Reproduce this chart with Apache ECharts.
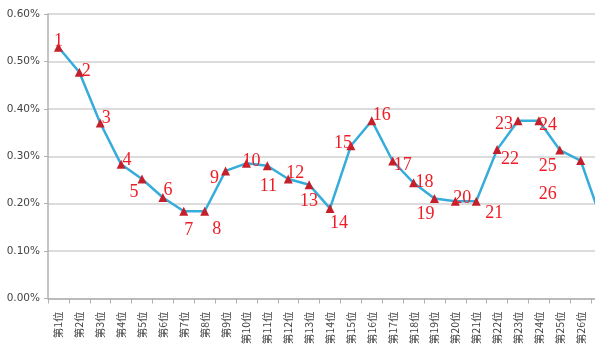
<!DOCTYPE html>
<html><head><meta charset="utf-8">
<script src="https://cdn.jsdelivr.net/npm/echarts@6/dist/echarts.min.js"></script>
<style>html,body{margin:0;padding:0;background:#fff}#c{width:600px;height:356px}</style>
</head><body><div id="c"></div>
<script>
const categories = ['第1位','第2位','第3位','第4位','第5位','第6位','第7位','第8位','第9位','第10位','第11位','第12位','第13位','第14位','第15位','第16位','第17位','第18位','第19位','第20位','第21位','第22位','第23位','第24位','第25位','第26位','第27位'];
const values = [0.530,0.477,0.370,0.283,0.252,0.213,0.184,0.184,0.269,0.285,0.280,0.252,0.240,0.190,0.322,0.375,0.290,0.244,0.211,0.205,0.205,0.314,0.375,0.375,0.313,0.291,0.165];
const pointLabels = ['1','2','3','4','5','6','7','8','9','10','11','12','13','14','15','16','17','18','19','20','21','22','23','24','25','26',''];
const labelOffsets = [[0,-6],[7,-1],[6,-5],[6,-4],[-8,13],[5,-7],[5,19],[12,18],[-11,7],[5,-2],[1,21],[7,-6],[0,17],[9,15],[-8,-3],[10,-5],[10,4],[11,-1],[-9,16],[7,-3],[18,12],[13,10],[-14,4],[9,5],[-12,16],[-33,34],[0,0]];
const yTicks = { min: 0, max: 0.6, interval: 0.1 };

const chart = echarts.init(document.getElementById('c'), null, {renderer:'canvas'});
const data = values.map((v,i)=>({
  value: v,
  label: { show: pointLabels[i] !== '', formatter: pointLabels[i], position: 'inside', offset: labelOffsets[i] }
}));
chart.setOption({
  animation: false,
  backgroundColor: '#fff',
  grid: { left: 48, width: 564, top: 14, bottom: 57.5, containLabel: false, outerBoundsMode: 'none' },
  xAxis: {
    type: 'category', data: categories, boundaryGap: true,
    axisLine: { show: true, lineStyle: { color: '#b0b0b0', width: 1.5 } },
    axisTick: { show: true, length: 5, alignWithLabel: false, lineStyle: { color: '#b0b0b0' } },
    axisLabel: { rotate: 90, margin: 13, fontSize: 10.5, color: '#444', fontFamily: 'Noto Sans CJK SC', interval: 0 }
  },
  yAxis: {
    type: 'value', min: yTicks.min, max: yTicks.max, interval: yTicks.interval,
    axisLine: { show: true, lineStyle: { color: '#b0b0b0', width: 1.5 } },
    axisTick: { show: true, length: 4, lineStyle: { color: '#b0b0b0' } },
    splitLine: { lineStyle: { color: '#d0d0d0', width: 1.5 } },
    axisLabel: { formatter: v => v.toFixed(2) + '%', fontSize: 10.5, color: '#444', margin: 8, fontFamily: 'DejaVu Sans' }
  },
  series: [{
    type: 'line', data: data,
    lineStyle: { color: '#35acda', width: 2.5 },
    itemStyle: { color: '#c4202c' },
    symbol: 'triangle', symbolSize: 9,
    label: { color: '#ee1c25', fontSize: 18, fontFamily: 'Liberation Serif' }
  }],
  graphic: [{ type: 'rect', left: 595, top: 0, shape: { width: 10, height: 356 }, style: { fill: '#fff' }, z: 100 }]
});
</script></body></html>
